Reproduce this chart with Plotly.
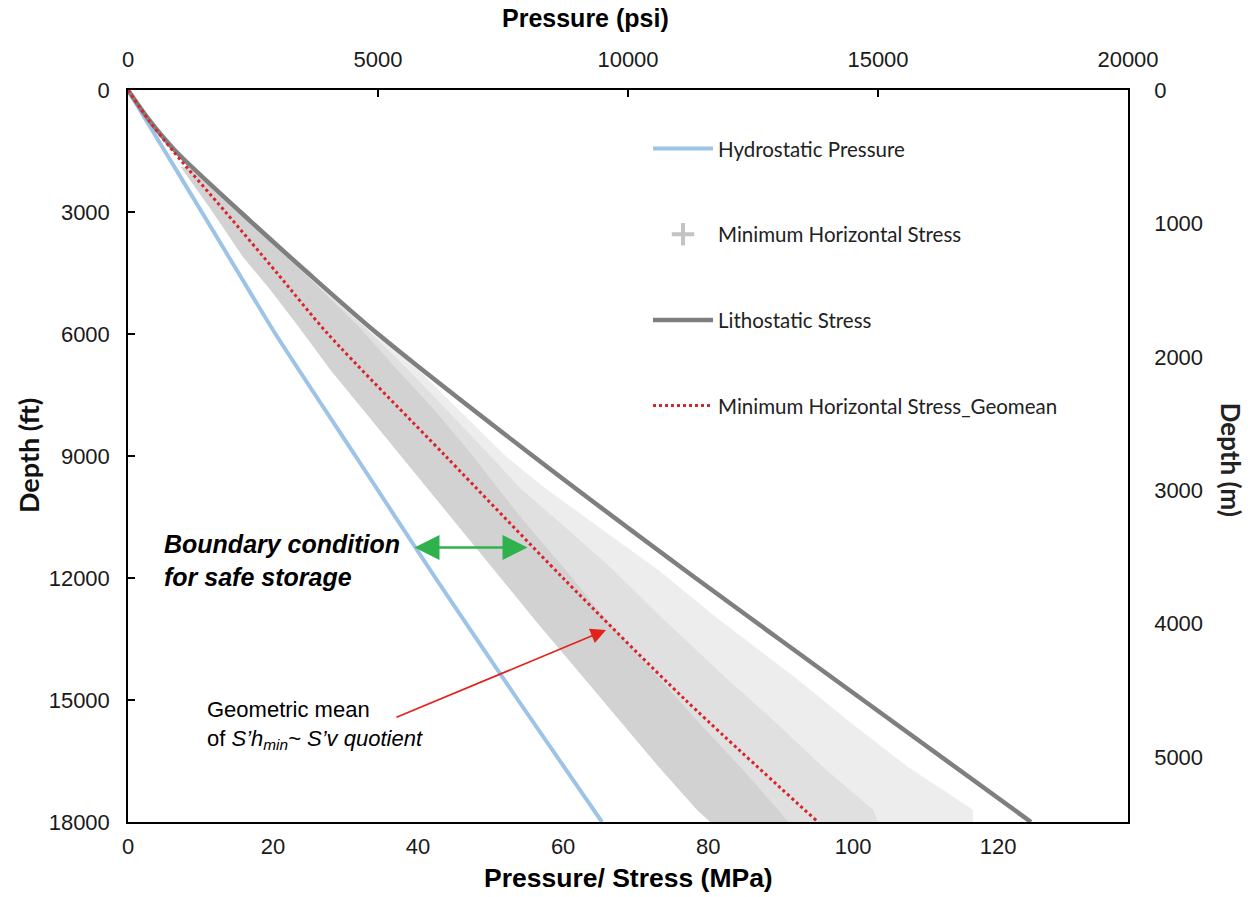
import plotly.graph_objects as go

PSI_TO_MPA = 0.00689476
FT_TO_M = 0.3048

# ---- line series (depth in ft, pressure in psi) ----
depth_ft = [0, 750, 1500, 3000, 4500, 6000, 9000, 12000, 15000, 18000]
hydro_psi = [0, 365, 735, 1475, 2210, 2950, 4550, 6150, 7800, 9480]
litho_psi = [0, 430, 950, 2250, 3600, 5000, 8100, 11350, 14700, 18060]
geomean_psi = [0, 420, 900, 1950, 2980, 4000, 6350, 8700, 11150, 13800]

# ---- minimum horizontal stress cloud envelope (depth ft, psi) ----
cloud_depth_ft = [1900, 2900, 4100, 4900, 5800, 6900, 7900, 9000, 9800, 10650,
                  11800, 13000, 14500, 15600, 16650, 17700, 18000]
cloud_low_psi = [1060, 1640, 2300, 2840, 3400, 4060, 4730, 5460, 6000, 6570,
                 7330, 8120, 9150, 9900, 10620, 11380, 11650]
cloud_core_psi = [1200, 2120, 3180, 3850, 4600, 5400, 6150, 6900, 7400, 7950,
                  8750, 9550, 10650, 11450, 12250, 13000, 13200]
cloud_mid_psi = [1200, 2120, 3180, 3880, 4700, 5620, 6400, 7250, 7850, 8650,
                 9700, 10700, 12000, 13000, 13900, 14900, 15000]
cloud_high_psi = [1200, 2120, 3180, 3900, 4780, 5820, 6650, 7550, 8350, 9300,
                  10600, 11800, 13400, 14500, 15600, 16900, 16900]

# ---- annotation anchors (psi, ft) ----
safe_arrow_depth = 11250
safe_arrow_from_psi = 5700
safe_arrow_to_psi = 7990
geo_arrow_tail = (5340, 15440)
geo_arrow_tip = (9560, 13280)

# ---- tick labels ----
psi_ticks = [0, 5000, 10000, 15000, 20000]
mpa_ticks = [0, 20, 40, 60, 80, 100, 120]
ft_ticks = [0, 3000, 6000, 9000, 12000, 15000, 18000]
m_ticks = [0, 1000, 2000, 3000, 4000, 5000]

fig = go.Figure()


def band(inner, outer, color):
    xs = list(inner) + list(outer)[::-1]
    ys = list(cloud_depth_ft) + list(cloud_depth_ft)[::-1]
    fig.add_trace(go.Scatter(x=xs, y=ys, xaxis='x2', yaxis='y', mode='lines',
                             fill='toself', fillcolor=color, line=dict(width=0),
                             hoverinfo='skip', showlegend=False))


band(cloud_low_psi, cloud_high_psi, '#ededed')
band(cloud_low_psi, cloud_mid_psi, '#e0e0e0')
band(cloud_low_psi, cloud_core_psi, '#d2d2d2')

# helper on MPa / metre axes so the secondary scales exist (transparent)
fig.add_trace(go.Scatter(
    x=[p * PSI_TO_MPA for p in hydro_psi], y=[d * FT_TO_M for d in depth_ft],
    xaxis='x', yaxis='y2', mode='lines', line=dict(color='rgba(0,0,0,0)', width=1),
    hoverinfo='skip', showlegend=False))

fig.add_trace(go.Scatter(
    x=hydro_psi, y=depth_ft, xaxis='x2', yaxis='y', mode='lines',
    name='Hydrostatic Pressure', line=dict(color='#9dc3e6', width=4, shape='spline', smoothing=0.6),
    legendgroup='a', legendrank=1))

fig.add_trace(go.Scatter(
    x=[None], y=[None], xaxis='x2', yaxis='y', mode='markers',
    name='Minimum Horizontal Stress',
    marker=dict(symbol='cross-thin', size=16, line=dict(color='#c4c4c4', width=4)),
    legendgroup='b', legendrank=2))

fig.add_trace(go.Scatter(
    x=litho_psi, y=depth_ft, xaxis='x2', yaxis='y', mode='lines',
    name='Lithostatic Stress', line=dict(color='#7f7f7f', width=4.5, shape='spline', smoothing=0.8),
    legendgroup='c', legendrank=3))

fig.add_trace(go.Scatter(
    x=geomean_psi, y=depth_ft, xaxis='x2', yaxis='y', mode='lines',
    name='Minimum Horizontal Stress_Geomean',
    line=dict(color='#d9242b', width=3, dash='dot', shape='spline', smoothing=0.8),
    legendgroup='d', legendrank=4))

tick_font = dict(family='Liberation Sans, Arial, sans-serif', size=22, color='#1a1a1a')
axis_common = dict(showline=True, linecolor='black', linewidth=1.5, ticks='inside',
                   ticklen=7, tickwidth=1.5, tickcolor='black', showgrid=False,
                   zeroline=False, tickfont=tick_font, tickformat='d')

fig.update_layout(
    width=1257, height=897,
    margin=dict(l=128, r=129, t=90, b=75),
    plot_bgcolor='white', paper_bgcolor='white',
    xaxis=dict(range=[0, 20000 * PSI_TO_MPA], tickvals=mpa_ticks, side='bottom',
               ticklabelstandoff=4, **axis_common),
    xaxis2=dict(range=[0, 20000], tickvals=psi_ticks, side='top', overlaying='x',
                ticklabelstandoff=12, **axis_common),
    yaxis=dict(range=[18000, 0], tickvals=ft_ticks, side='left',
               ticklabelstandoff=12, **axis_common),
    yaxis2=dict(range=[18000 * FT_TO_M, 0], tickvals=m_ticks, side='right', overlaying='y',
                ticklabelstandoff=20, **axis_common),
    legend=dict(x=0.52, y=0.947, xanchor='left', yanchor='top', bgcolor='rgba(0,0,0,0)',
                font=dict(family='Lato, Open Sans, sans-serif', size=20.5, color='#222'),
                tracegroupgap=56, itemwidth=60, traceorder='grouped'),
)

title_font = dict(family='Liberation Sans, Arial, sans-serif', size=25, color='black')
title_font_b = dict(family='Liberation Sans, Arial, sans-serif', size=26.5, color='black')
side_font = dict(family='Lato, sans-serif', size=27, color='#111')
annos = [
    dict(text='<b>Pressure (psi)</b>', x=0.457, y=1.0, yshift=72, xref='paper', yref='paper',
         showarrow=False, font=title_font, xanchor='center', yanchor='middle'),
    dict(text='<b>Pressure/ Stress (MPa)</b>', x=0.5, y=0.0, yshift=-56, xref='paper', yref='paper',
         showarrow=False, font=title_font_b, xanchor='center', yanchor='middle'),
    dict(text='<b>Depth (ft)</b>', x=0.0, xshift=-100, y=0.5, xref='paper', yref='paper',
         showarrow=False, font=side_font, textangle=-90, xanchor='center', yanchor='middle'),
    dict(text='<b>Depth (m)</b>', x=1.0, xshift=103, y=0.495, xref='paper', yref='paper',
         showarrow=False, font=dict(family='Lato, sans-serif', size=26, color='#222'),
         textangle=90, xanchor='center', yanchor='middle'),
    dict(text='<b><i>Boundary condition<br>for safe storage</i></b>', x=0.034, y=0.357,
         xref='paper', yref='paper', showarrow=False, align='left', xanchor='left', yanchor='middle',
         font=dict(family='Liberation Sans, Arial, sans-serif', size=25, color='black')),
    dict(text='Geometric mean<br>of <i>S’h<sub>min</sub>~ S’v quotient</i>', x=0.077, y=0.133,
         xref='paper', yref='paper', showarrow=False, align='left', xanchor='left', yanchor='middle',
         font=dict(family='Liberation Sans, Arial, sans-serif', size=22, color='black')),
    dict(x=safe_arrow_to_psi, y=safe_arrow_depth, ax=safe_arrow_from_psi, ay=safe_arrow_depth,
         xref='x2', yref='y', axref='x2', ayref='y', text='', showarrow=True,
         arrowhead=2, arrowside='end+start', arrowsize=2.0, arrowwidth=2.5, arrowcolor='#2fb24c'),
    dict(x=geo_arrow_tip[0], y=geo_arrow_tip[1], ax=geo_arrow_tail[0], ay=geo_arrow_tail[1],
         xref='x2', yref='y', axref='x2', ayref='y', text='', showarrow=True,
         arrowhead=2, arrowsize=1.8, arrowwidth=1.7, arrowcolor='#e3221c'),
]
fig.update_layout(annotations=annos)

fig.write_html('out.html', config={'displayModeBar': False},
               post_script="document.body.style.margin='0';document.body.style.overflow='hidden';")
